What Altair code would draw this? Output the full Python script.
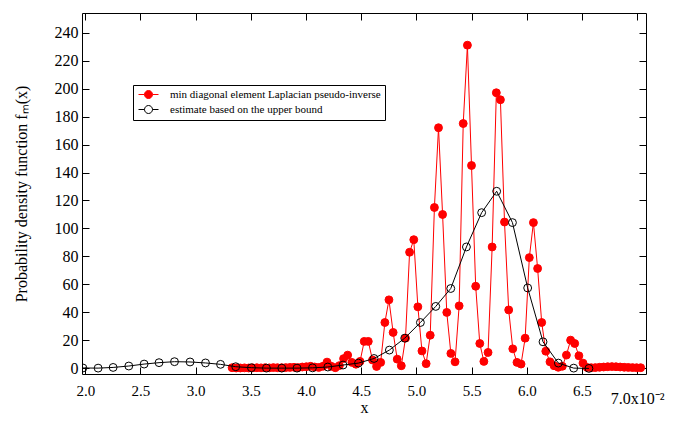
import altair as alt
import pandas as pd

SERIES = ["min diagonal element Laplacian pseudo-inverse", "estimate based on the upper bound"]

red_x = [3.330, 3.367, 3.405, 3.442, 3.480, 3.517, 3.554, 3.592, 3.629, 3.667,
         3.704, 3.741, 3.779, 3.816, 3.854, 3.891, 3.928, 3.966, 4.003, 4.041,
         4.078, 4.115, 4.153, 4.190, 4.228, 4.265, 4.302, 4.340, 4.377, 4.415,
         4.452, 4.489, 4.527, 4.564, 4.602, 4.639, 4.676, 4.714, 4.751, 4.789,
         4.826, 4.863, 4.901, 4.938, 4.976, 5.013, 5.050, 5.088, 5.125, 5.163,
         5.200, 5.237, 5.275, 5.312, 5.350, 5.387, 5.424, 5.462, 5.499, 5.537,
         5.574, 5.611, 5.649, 5.686, 5.724, 5.761, 5.798, 5.836, 5.873, 5.911,
         5.948, 5.985, 6.023, 6.060, 6.098, 6.135, 6.172, 6.210, 6.247, 6.285,
         6.322, 6.359, 6.397, 6.434, 6.472, 6.509, 6.546, 6.584, 6.621, 6.659,
         6.696, 6.733, 6.771, 6.808, 6.846, 6.883, 6.920, 6.958, 6.995, 7.032]
red_y = [0.5, 0.3, 0.3, 0.4, 0.3, 0.4, 0.5, 0.4, 0.5, 0.4,
         0.6, 0.5, 0.5, 0.6, 0.7, 0.8, 0.6, 1.0, 1.2, 1.5,
         1.0, 0.7, 1.5, 4.5, 1.5, 0.5, 2.0, 7.0, 9.5, 4.3,
         3.0, 5.0, 19.3, 19.3, 6.0, 1.4, 4.3, 32.8, 49.0, 25.7,
         6.6, 1.9, 21.6, 83.0, 92.0, 44.0, 12.5, 3.4, 23.7, 115.0,
         172.0, 110.0, 40.0, 10.7, 4.7, 44.7, 175.0, 231.0, 145.0, 58.7,
         17.8, 5.0, 11.4, 86.8, 197.0, 192.0, 104.6, 41.8, 14.0, 4.3,
         3.1, 21.6, 79.2, 104.2, 71.4, 32.8, 12.3, 4.7, 1.9, 0.8,
         1.5, 9.5, 20.2, 17.8, 9.0, 3.8, 0.7, 0.5, 0.6, 0.8,
         1.0, 1.2, 1.3, 1.2, 1.0, 0.8, 0.7, 0.6, 0.5, 0.5]

est_x = [1.978, 2.116, 2.252, 2.394, 2.533, 2.668, 2.808, 2.949, 3.089, 3.225,
         3.363, 3.505, 3.641, 3.780, 3.918, 4.058, 4.197, 4.335, 4.475, 4.616,
         4.755, 4.894, 5.036, 5.175, 5.311, 5.453, 5.591, 5.727, 5.870, 6.008,
         6.147, 6.286, 6.425, 6.563]
est_y = [0.3, 0.2, 0.7, 1.7, 3.1, 4.1, 4.8, 4.6, 3.9, 2.9,
         1.2, 0.5, 0.2, 0.2, 0.2, 0.4, 1.0, 2.4, 3.8, 7.1,
         13.1, 21.6, 32.8, 44.3, 57.1, 86.8, 111.3, 126.6, 104.2, 57.5,
         19.0, 3.8, 0.2, 0.0]

x_ticks = [2.0, 2.5, 3.0, 3.5, 4.0, 4.5, 5.0, 5.5, 6.0, 6.5]
x_last_tick = [7.0]
x_last_label = "7.0x10⁻²"
y_ticks = [0, 20, 40, 60, 80, 100, 120, 140, 160, 180, 200, 220, 240]

red_df = pd.DataFrame({"x": red_x, "y": red_y, "series": SERIES[0]})
est_df = pd.DataFrame({"x": est_x, "y": est_y, "series": SERIES[1]})

FONT = "Liberation Serif"
xscale = alt.Scale(domain=[1.97, 7.08], nice=False, zero=False)
yscale = alt.Scale(domain=[-4, 254], nice=False, zero=False)
stroke_scale = alt.Scale(domain=SERIES, range=["#ff0000", "#000000"])
fill_scale = alt.Scale(domain=SERIES, range=["#ff0000", "transparent"])

legend = alt.Legend(
    title=None, orient="none", legendX=51, legendY=72,
    strokeColor="black", fillColor="white", padding=4,
    symbolType="M-2,0L-0.8,0M0.8,0L2,0M0.8,0A0.8,0.8,0,1,1,-0.8,0A0.8,0.8,0,1,1,0.8,0",
    symbolSize=100, symbolStrokeWidth=1, symbolOffset=6,
    labelFont=FONT, labelFontSize=11, labelLimit=0,
    labelColor="black", rowPadding=2, labelOffset=16, cornerRadius=0,
)

TICK = {"expr": "-7"}
x_bottom = alt.Axis(
    values=x_ticks, orient="bottom", grid=False, domain=False,
    tickSize=TICK, tickColor="black", format=".1f",
    labelPadding=16,
    labelFont=FONT, labelFontSize=15, labelColor="black",
    title="x", titleFont=FONT, titleFontSize=16, titleFontWeight="normal",
    titleColor="black", titleY=38, titleBaseline="alphabetic",
)
x_bottom_last = alt.Axis(
    values=x_last_tick, orient="bottom", grid=False, domain=False,
    tickSize=TICK, tickColor="black",
    labelExpr="'" + x_last_label + "'", labelPadding=23,
    labelFont=FONT, labelFontSize=16, labelColor="black", title=None,
)
y_left = alt.Axis(
    values=y_ticks, orient="left", grid=False, domain=False,
    tickSize=TICK, tickColor="black",
    labelFont=FONT, labelFontSize=16, labelColor="black", labelPadding=11,
    title="Probability density function fₘ(x)", titleFont=FONT, titleFontSize=16,
    titleFontWeight="normal", titleColor="black", titlePadding=25,
)
x_top = alt.Axis(values=x_ticks + x_last_tick, orient="top", grid=False, domain=False, labels=False,
                 tickSize=TICK, tickColor="black", title=None)
y_right = alt.Axis(values=y_ticks, orient="right", grid=False, domain=False, labels=False,
                   tickSize=TICK, tickColor="black", title=None)

red_line = alt.Chart(red_df).mark_line(color="#ff0000", strokeWidth=1, clip=True).encode(
    x=alt.X("x:Q", scale=xscale, axis=x_bottom),
    y=alt.Y("y:Q", scale=yscale, axis=y_left),
    order="x:Q",
)
red_pts = alt.Chart(red_df).mark_point(shape="circle", size=62, strokeWidth=1, opacity=1, clip=True).encode(
    x=alt.X("x:Q", scale=xscale, axis=x_bottom_last),
    y=alt.Y("y:Q", scale=yscale, axis=None),
    stroke=alt.Stroke("series:N", scale=stroke_scale, legend=legend),
    fill=alt.Fill("series:N", scale=fill_scale, legend=legend),
)
est_line = alt.Chart(est_df).mark_line(color="black", strokeWidth=1, clip=True).encode(
    x=alt.X("x:Q", scale=xscale, axis=x_top),
    y=alt.Y("y:Q", scale=yscale, axis=y_right),
    order="x:Q",
)
est_pts = alt.Chart(est_df).mark_point(shape="circle", size=62, strokeWidth=1, opacity=1, clip=True).encode(
    x=alt.X("x:Q", scale=xscale, axis=None),
    y=alt.Y("y:Q", scale=yscale, axis=None),
    stroke=alt.Stroke("series:N", scale=stroke_scale, legend=legend),
    fill=alt.Fill("series:N", scale=fill_scale, legend=legend),
)

chart = alt.layer(red_line, red_pts, est_line, est_pts).resolve_axis(
    x="independent", y="independent"
).properties(
    width=564, height=361,
    autosize=alt.AutoSizeParams(type="none"),
    padding={"left": 74, "top": 5, "right": 31, "bottom": 42},
    background="white",
).configure_view(stroke="black", strokeWidth=1)

chart.save("out.html", embed_options={"renderer": "svg", "actions": False})
